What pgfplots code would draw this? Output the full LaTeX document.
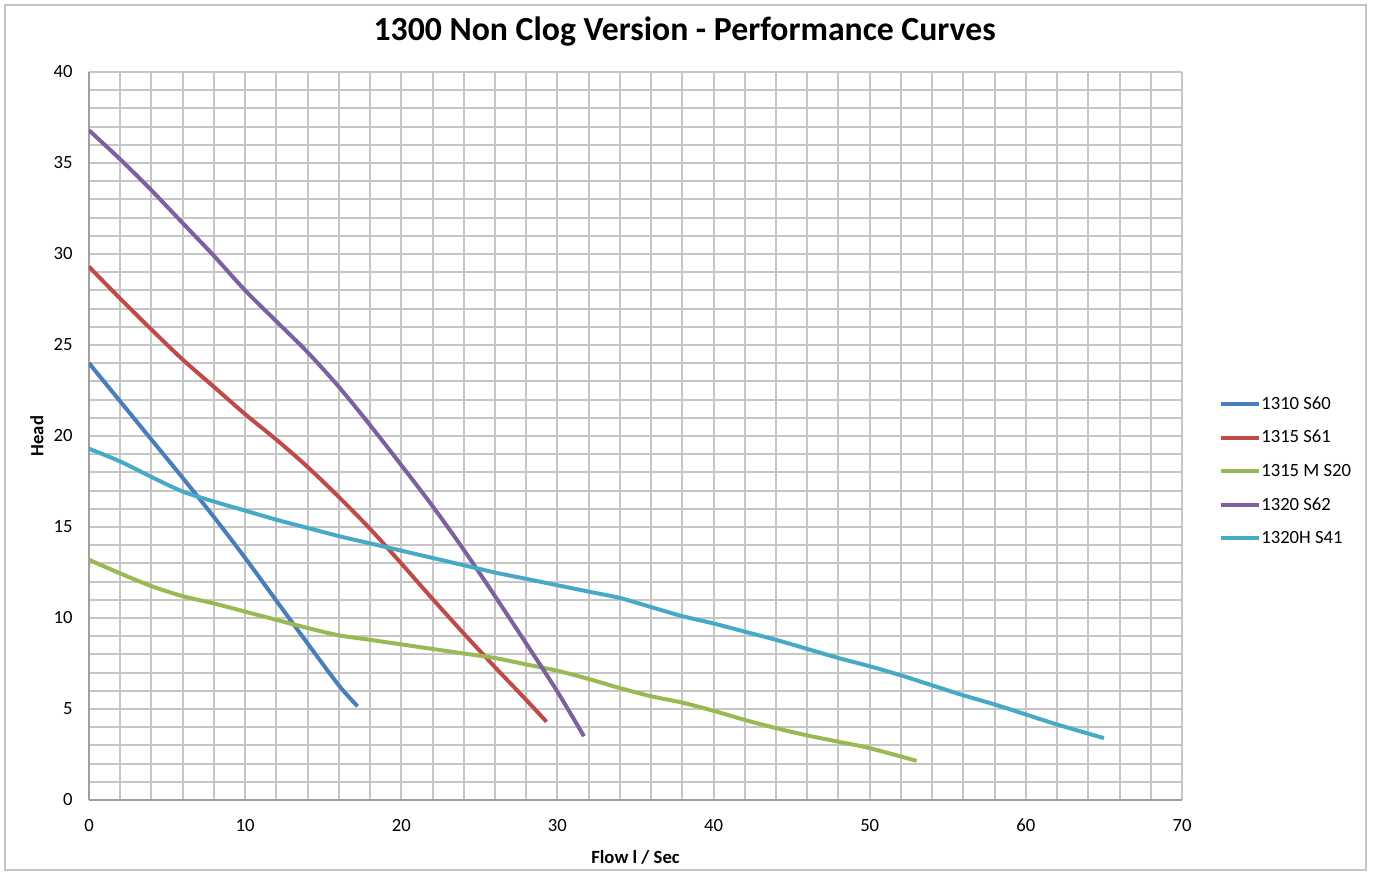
\documentclass[border=0pt]{standalone}
\usepackage{fontspec}
\setmainfont{Carlito}
\usepackage{pgfplots}
\pgfplotsset{compat=1.18}

\definecolor{cBlue}{HTML}{4A7EBB}
\definecolor{cRed}{HTML}{BE4B48}
\definecolor{cGreen}{HTML}{98B954}
\definecolor{cPurple}{HTML}{7D60A0}
\definecolor{cCyan}{HTML}{46AAC5}
\definecolor{gridgray}{HTML}{C6C6C6}

\begin{document}
\begin{tikzpicture}
\useasboundingbox (-66.75pt,-56.25pt) rectangle (963pt,600pt);
\draw[color=gray!45, line width=1.5pt] (-63pt,-52.5pt) rectangle (957.75pt,596.25pt);
\begin{axis}[
    scale only axis,
    width=819.75pt, height=546pt,
    xmin=0, xmax=70, ymin=0, ymax=40,
    xtick={0,10,...,70}, ytick={0,5,...,40},
    minor xtick={0,2,...,70}, minor ytick={0,1,...,40},
    grid=both,
    major grid style={color=gridgray, line width=1.5pt},
    minor grid style={color=gridgray, line width=1.5pt},
    axis x line*=bottom, axis y line*=left,
    axis line style={color=gray!75, line width=1.5pt},
    major tick length=0pt, minor tick length=0pt,
    tick label style={font=\fontsize{14}{16}\selectfont},
    /pgf/number format/assume math mode=true,
    xticklabel shift=11pt,
    yticklabel shift=8.8pt,
    title={\textbf{1300 Non Clog Version - Performance Curves}},
    title style={at={(axis description cs:0.545,1.044)}, anchor=center, font=\fontsize{25.3}{28}\selectfont},
    xlabel={\textbf{Flow l / Sec}},
    xlabel style={at={(axis description cs:0.5,-0.0783)}, anchor=center, font=\fontsize{14}{16}\selectfont},
    ylabel={\textbf{Head}},
    ylabel style={at={(axis description cs:-0.0476,0.5)}, anchor=center, font=\fontsize{14}{16}\selectfont},
    legend style={at={(1.0333,0.452)}, anchor=west, draw=none, fill=none,
        font=\fontsize{14}{16}\selectfont, row sep=10.4pt, inner sep=0pt,
        nodes={inner xsep=0.5pt},
        /tikz/every even column/.append style={column sep=0pt}},
    legend cell align=left,
    legend image code/.code={\draw[#1, line width=3pt] (0pt,0pt) -- (28.5pt,0pt);},
    every axis plot/.append style={line width=3pt, smooth, mark=none},
]
\addplot[color=cBlue] coordinates {
    (0,24.0) (2,21.9) (4,19.8) (6,17.7) (8,15.55) (10,13.3) (12,10.95)
    (14,8.6) (16,6.3) (17.2,5.15)
};
\addlegendentry{1310 S60}
\addplot[color=cRed] coordinates {
    (0,29.3) (2,27.55) (4,25.85) (6,24.2) (8,22.7) (10,21.2) (12,19.8)
    (14,18.3) (16,16.65) (18,14.9) (20,13.0) (22,11.05) (24,9.15) (26,7.3)
    (28,5.5) (29.3,4.3)
};
\addlegendentry{1315 S61}
\addplot[color=cGreen] coordinates {
    (0,13.2) (2,12.45) (4,11.75) (6,11.2) (8,10.8) (10,10.35) (12,9.9)
    (14,9.45) (16,9.05) (18,8.8) (20,8.55) (22,8.3) (24,8.05) (26,7.8)
    (28,7.45) (30,7.1) (32,6.65) (34,6.15) (36,5.7) (38,5.35) (40,4.9)
    (42,4.4) (44,3.95) (46,3.55) (48,3.2) (50,2.85) (53,2.15)
};
\addlegendentry{1315 M S20}
\addplot[color=cPurple] coordinates {
    (0,36.8) (2,35.2) (4,33.5) (6,31.7) (8,29.9) (10,28.0) (12,26.3)
    (14,24.6) (16,22.7) (18,20.6) (20,18.4) (22,16.15) (24,13.75) (26,11.2)
    (28,8.6) (30,5.95) (31.7,3.5)
};
\addlegendentry{1320 S62}
\addplot[color=cCyan] coordinates {
    (0,19.3) (2,18.6) (4,17.75) (6,16.95) (8,16.4) (10,15.9) (12,15.4)
    (14,14.95) (16,14.5) (18,14.1) (20,13.7) (22,13.3) (24,12.9) (26,12.5)
    (28,12.15) (30,11.8) (32,11.45) (34,11.1) (36,10.6) (38,10.1) (40,9.7)
    (42,9.25) (44,8.8) (46,8.3) (48,7.8) (50,7.35) (52,6.85) (54,6.3)
    (56,5.75) (58,5.25) (60,4.7) (62,4.15) (65,3.4)
};
\addlegendentry{1320H S41}
\end{axis}
\end{tikzpicture}
\end{document}
